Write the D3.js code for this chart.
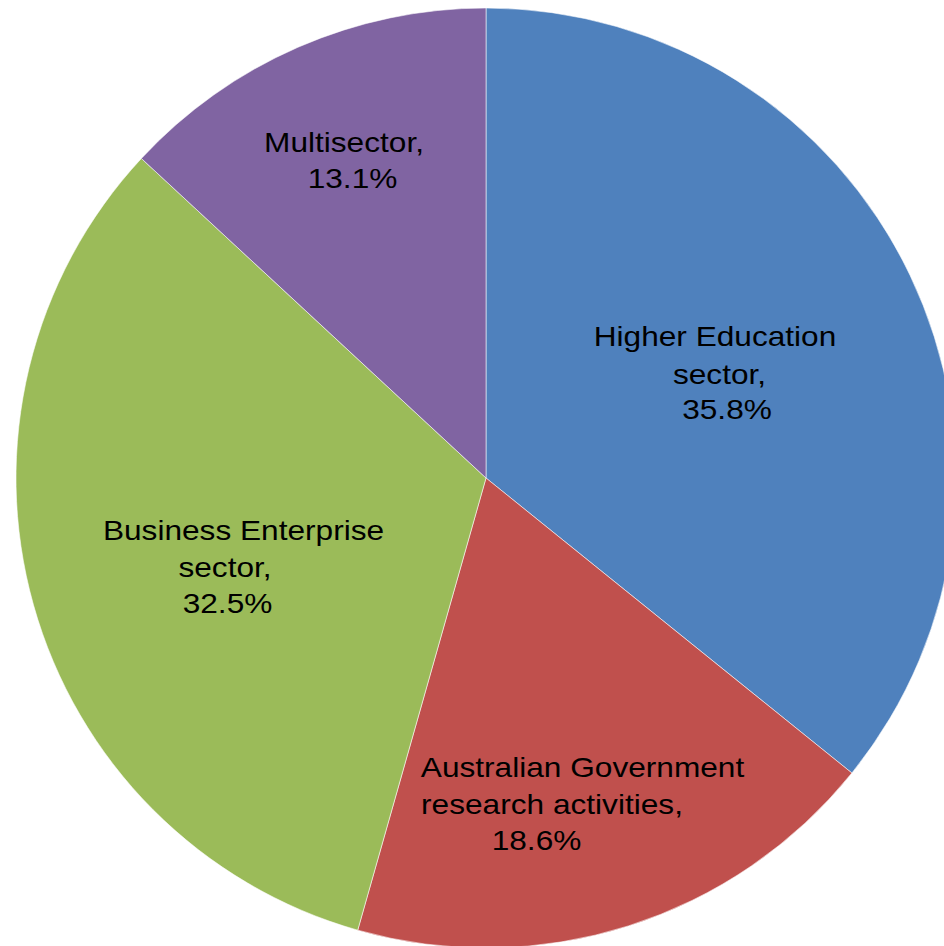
<!DOCTYPE html>
<html>
<head>
<meta charset="utf-8">
<script src="https://cdn.jsdelivr.net/npm/d3@7"></script>
<style>
  html, body { margin: 0; padding: 0; background: #fff; }
  svg { display: block; }
</style>
</head>
<body>
<svg id="chart" width="944" height="946"></svg>
<script>
// ---- data ----
const categories = ["Higher Education sector", "Australian Government research activities", "Business Enterprise sector", "Multisector"];
const values = [35.8, 18.6, 32.5, 13.1];
const colors = ["#4F81BD", "#C0504D", "#9BBB59", "#8064A2"];
const labelLines = [
  ["Higher Education", "sector,", "35.8%"],
  ["Australian Government", "research activities,", "18.6%"],
  ["Business Enterprise", "sector,", "32.5%"],
  ["Multisector,", "13.1%"]
];

// ---- layout (text placement relative to pie centre: [dx, baseline dy] per line) ----
const labelLayout = [
  [[229, -132], [233.5, -94], [241, -59]],
  [[96.5, 299], [66, 336], [50.5, 372]],
  [[-242.5, 62], [-261, 99], [-258.5, 135]],
  [[-142, -326], [-133.5, -290]]
];

const W = 944, H = 946;
const cx = 486, cy = 478, R = 470;
const fontSize = 28, stretch = 1.13;

const svg = d3.select("#chart");
const g = svg.append("g").attr("transform", `translate(${cx},${cy})`);

const pie = d3.pie().sort(null).value(d => d.value);
const arcs = pie(categories.map((c, i) => ({ name: c, value: values[i], i })));
const arc = d3.arc().innerRadius(0).outerRadius(R);

g.selectAll("path.slice")
  .data(arcs)
  .join("path")
  .attr("class", "slice")
  .attr("d", arc)
  .attr("fill", d => colors[d.data.i])
  .attr("stroke", "rgba(255,255,255,0.55)")
  .attr("stroke-width", 1);

const labels = g.selectAll("g.label")
  .data(arcs)
  .join("g")
  .attr("class", "label");

labels.each(function (d) {
  const i = d.data.i;
  const sel = d3.select(this);
  labelLines[i].forEach((line, j) => {
    const [dx, dy] = labelLayout[i][j];
    sel.append("text")
      .attr("transform", `translate(${dx},${dy}) scale(${stretch},1)`)
      .attr("text-anchor", "middle")
      .attr("font-family", "'Liberation Sans', Arial, sans-serif")
      .attr("font-size", fontSize)
      .attr("fill", "#000")
      .text(line);
  });
});
</script>
</body>
</html>
